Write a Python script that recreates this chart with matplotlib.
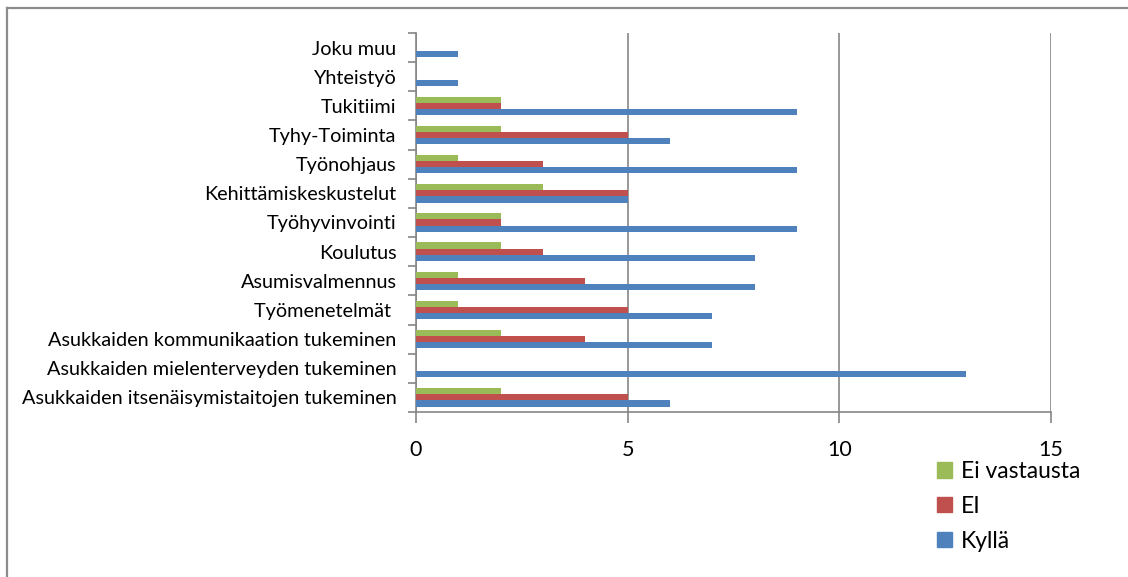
import matplotlib
matplotlib.use("Agg")
import matplotlib.pyplot as plt
import numpy as np
from matplotlib.patches import Patch
from matplotlib.lines import Line2D

categories = [
    "Asukkaiden itsenäisymistaitojen tukeminen",
    "Asukkaiden mielenterveyden tukeminen",
    "Asukkaiden kommunikaation tukeminen",
    "Työmenetelmät ",
    "Asumisvalmennus",
    "Koulutus",
    "Työhyvinvointi",
    "Kehittämiskeskustelut",
    "Työnohjaus",
    "Tyhy-Toiminta",
    "Tukitiimi",
    "Yhteistyö",
    "Joku muu",
]
kylla = [6, 13, 7, 7, 8, 8, 9, 5, 9, 6, 9, 1, 1]
ei = [5, 0, 4, 5, 4, 3, 2, 5, 3, 5, 2, 0, 0]
ei_vastausta = [2, 0, 2, 1, 1, 2, 2, 3, 1, 2, 2, 0, 0]
x_ticks = [0, 5, 10, 15]

BLUE = "#4F81BD"
RED = "#C0504D"
GREEN = "#9BBB59"
GRAY = "#868686"

plt.rcParams["font.family"] = ["Lato", "DejaVu Sans"]

W, H = 1128, 577
fig = plt.figure(figsize=(W / 100, H / 100), dpi=100)

# outer chart border (left and top visible)
fig.add_artist(Line2D([7 / W, 7 / W], [0, 1 - 8 / H], transform=fig.transFigure, color="#8C8C8C", lw=1.6))
fig.add_artist(Line2D([7 / W, 1], [1 - 8 / H, 1 - 8 / H], transform=fig.transFigure, color="#8C8C8C", lw=1.6))

ax = fig.add_axes([416 / W, 1 - 412 / H, (1051 - 416) / W, (412 - 33) / H])

y = np.arange(len(categories))
h = 0.21
ax.barh(y - h, kylla, height=h, color=BLUE, label="Kyllä", zorder=3)
ax.barh(y, ei, height=h, color=RED, label="EI", zorder=3)
ax.barh(y + h, ei_vastausta, height=h, color=GREEN, label="Ei vastausta", zorder=3)

ax.set_xlim(0, 15)
ax.set_ylim(-0.5, len(categories) - 0.5)
ax.set_xticks(x_ticks)
ax.set_xticklabels([str(t) for t in x_ticks], fontsize=15.5)
ax.xaxis.grid(True, color=GRAY, lw=1.2, zorder=0)
ax.set_axisbelow(True)

# category labels centered, ticks at boundaries
ax.set_yticks(y)
ax.set_yticklabels(categories, fontsize=14.3)
ax.tick_params(axis="y", length=0, pad=14)
ax.set_yticks(np.arange(-0.5, len(categories), 1), minor=True)
ax.tick_params(axis="y", which="minor", length=6, color=GRAY, width=1.2)
ax.tick_params(axis="x", length=8, color=GRAY, width=1.2, pad=12)

for s in ["top", "right"]:
    ax.spines[s].set_visible(False)
for s in ["left", "bottom"]:
    ax.spines[s].set_color(GRAY)
    ax.spines[s].set_linewidth(1.2)

handles = [Patch(color=GREEN), Patch(color=RED), Patch(color=BLUE)]
labels = ["Ei vastausta", "EI", "Kyllä"]
fig.legend(handles, labels, loc="upper left", bbox_to_anchor=(921 / W, 1 - 445 / H),
           frameon=False, fontsize=16.5, handlelength=0.65, handleheight=0.65,
           handletextpad=0.4, labelspacing=0.6, borderpad=0.2)

fig.savefig("out.png", dpi=100)
